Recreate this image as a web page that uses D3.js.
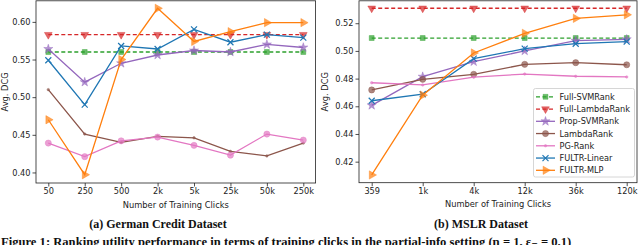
<!DOCTYPE html>
<html><head><meta charset="utf-8">
<script src="https://cdn.jsdelivr.net/npm/d3@7"></script>
<style>
html,body{margin:0;padding:0;background:#fff;}
svg{display:block;}
text{font-family:"DejaVu Sans",sans-serif;fill:#222;}
.cap{font-family:"Liberation Serif","DejaVu Serif",serif;font-weight:bold;fill:#111;}
</style></head>
<body>
<svg id="chart" width="640" height="245"></svg>
<script>
// ---------- data ----------
const seriesNames = ["Full-SVMRank","Full-LambdaRank","Prop-SVMRank","LambdaRank","PG-Rank","FULTR-Linear","FULTR-MLP"];
const colors = ["#2ca02c","#d62728","#9467bd","#8c564b","#e377c2","#1f77b4","#ff7f0e"];

// (a) German Credit
const germanClicks = ["50","250","500","2k","5k","25k","50k","250k"];
const germanFullSVM    = [0.560,0.560,0.560,0.560,0.560,0.560,0.560,0.560];
const germanFullLambda = [0.583,0.583,0.583,0.583,0.583,0.583,0.583,0.583];
const germanPropSVM    = [0.564,0.520,0.545,0.556,0.562,0.560,0.570,0.566];
const germanLambda     = [0.510,0.451,0.440,0.448,0.446,0.428,0.422,0.439];
const germanPG         = [0.439,0.421,0.442,0.447,0.436,0.423,0.451,0.443];
const germanLinear     = [0.549,0.490,0.568,0.564,0.590,0.573,0.583,0.579];
const germanMLP        = [0.470,0.397,0.550,0.618,0.574,0.587,0.599,0.599];
const germanTicks = [0.40,0.45,0.50,0.55,0.60];

// (b) MSLR
const mslrClicks = ["359","1k","4k","12k","36k","120k"];
const mslrFullSVM    = [0.5093,0.5093,0.5093,0.5093,0.5093,0.5093];
const mslrFullLambda = [0.5308,0.5308,0.5308,0.5308,0.5308,0.5308];
const mslrPropSVM    = [0.4607,0.4814,0.4922,0.5000,0.5074,0.5084];
const mslrLambda     = [0.4718,0.4795,0.4831,0.4903,0.4915,0.4900];
const mslrPG         = [0.4770,0.4754,0.4810,0.4833,0.4817,0.4812];
const mslrLinear     = [0.4640,0.4687,0.4944,0.5016,0.5052,0.5067];
const mslrMLP        = [0.4104,0.4680,0.4985,0.5127,0.5235,0.5261];
const mslrTicks = [0.42,0.44,0.46,0.48,0.50,0.52];

const svg = d3.select("#chart");

function markerPath(kind){
  switch(kind){
    case "square": return d3.symbol(d3.symbolSquare, 24)();
    case "tdown": return d3.symbol(d3.symbolTriangle, 26)();
    case "star": return d3.symbol(d3.symbolStar, 26)();
    case "circle": return d3.symbol(d3.symbolCircle, 30)();
    case "dot": return d3.symbol(d3.symbolCircle, 5)();
    case "x": return "M-3,-3L3,3M-3,3L3,-3";
    case "tright": return d3.symbol(d3.symbolTriangle, 30)();
  }
}
function markerRot(kind){ return kind==="tdown"?180:(kind==="tright"?90:0); }

function drawMarker(g, kind, color, x, y){
  const p = g.append("path").attr("d", markerPath(kind))
    .attr("transform", `translate(${x},${y}) rotate(${markerRot(kind)})`);
  if(kind==="x"){
    p.attr("fill","none").attr("stroke",color).attr("stroke-width",1.2);
  } else {
    p.attr("fill",color).attr("fill-opacity",0.7).attr("stroke",color).attr("stroke-opacity",0.5).attr("stroke-width",0.8);
  }
}

function panel(opts){
  const {x0,x1,y0,y1,px0,px1,cats,yDomain,ticks,series,markers,dashed,legend,caption,capX,ylabX} = opts;
  const g = svg.append("g");
  const x = d3.scalePoint().domain(cats).range([px0,px1]);
  const y = d3.scaleLinear().domain(yDomain).range([y1,y0]);

  const clip = "clip"+Math.round(x0);
  svg.append("clipPath").attr("id",clip).append("rect").attr("x",x0).attr("y",y0).attr("width",x1-x0).attr("height",y1-y0);

  const ya = g.append("g").attr("transform",`translate(${x0},0)`)
    .call(d3.axisLeft(y).tickValues(ticks).tickFormat(d3.format(".2f")).tickSize(3.5).tickPadding(2));
  const xa = g.append("g").attr("transform",`translate(0,${y1})`)
    .call(d3.axisBottom(x).tickSize(3.5).tickPadding(2));
  [ya,xa].forEach(a=>{
    a.select(".domain").remove();
    a.selectAll("line").attr("stroke","#222").attr("stroke-width",0.8);
    a.selectAll("text").style("font-size","8.2px").attr("fill","#222");
  });

  const plot = g.append("g").attr("clip-path",`url(#${clip})`);
  const line = d3.line().x((d,i)=>x(cats[i])).y(d=>y(d));
  series.forEach((vals,si)=>{
    const sg = plot.append("g");
    sg.append("path").attr("d",line(vals)).attr("fill","none").attr("stroke",colors[si])
      .attr("stroke-width",1.3).attr("stroke-dasharray",dashed[si]?"4,2.5":null);
    vals.forEach((v,i)=>drawMarker(sg,markers[si],colors[si],x(cats[i]),y(v)));
  });

  g.append("rect").attr("x",x0).attr("y",y0).attr("width",x1-x0).attr("height",y1-y0)
    .attr("fill","none").attr("stroke","#222").attr("stroke-width",0.8);

  g.append("text").attr("x",(x0+x1)/2).attr("y",y1+24.5).attr("text-anchor","middle")
    .style("font-size","8.3px").text("Number of Training Clicks");
  g.append("text").attr("transform",`translate(${ylabX},${(y0+y1)/2}) rotate(-90)`)
    .attr("text-anchor","middle").style("font-size","8.3px").text("Avg. DCG");
  g.append("text").attr("class","cap").attr("x",capX).attr("y",227.5).attr("text-anchor","middle")
    .style("font-size","12px").text(caption);

  if(legend){
    const lx=533.5, ly=88.5, lw=101, lh=88.5;
    const lg = g.append("g");
    lg.append("rect").attr("x",lx).attr("y",ly).attr("width",lw).attr("height",lh).attr("rx",2)
      .attr("fill","#fff").attr("fill-opacity",0.85).attr("stroke","#ccc").attr("stroke-width",0.8);
    seriesNames.forEach((n,i)=>{
      const yy = ly+8.3+i*12.25;
      lg.append("line").attr("x1",lx+2.5).attr("x2",lx+21.5).attr("y1",yy).attr("y2",yy)
        .attr("stroke",colors[i]).attr("stroke-width",1.3).attr("stroke-dasharray",dashed[i]?"4,2.5":null);
      drawMarker(lg,legend[i],colors[i],lx+12,yy);
      lg.append("text").attr("x",lx+26).attr("y",yy+3).style("font-size","8.2px").text(n);
    });
  }
}

const dashed = [true,true,false,false,false,false,false];

panel({x0:36,x1:315.6,y0:0.8,y1:183,px0:48.3,px1:303.3,cats:germanClicks,
  yDomain:[0.386,0.628],ticks:germanTicks,
  series:[germanFullSVM,germanFullLambda,germanPropSVM,germanLambda,germanPG,germanLinear,germanMLP],
  markers:["square","tdown","star","dot","circle","x","tright"],dashed,
  caption:"(a) German Credit Dataset",capX:158,ylabX:7.5});

panel({x0:359,x1:637,y0:0.8,y1:182.7,px0:371.7,px1:626.7,cats:mslrClicks,
  yDomain:[0.4048,0.5362],ticks:mslrTicks,
  series:[mslrFullSVM,mslrFullLambda,mslrPropSVM,mslrLambda,mslrPG,mslrLinear,mslrMLP],
  markers:["square","tdown","star","circle","dot","x","tright"],dashed,
  legend:["square","tdown","star","circle","dot","x","tright"],
  caption:"(b) MSLR Dataset",capX:481,ylabX:328});

svg.append("text").attr("class","cap").attr("x",1).attr("y",246).style("font-size","12.6px")
  .text("Figure 1: Ranking utility performance in terms of training clicks in the partial-info setting (η = 1, ε₋ = 0.1)");
</script>
</body></html>
